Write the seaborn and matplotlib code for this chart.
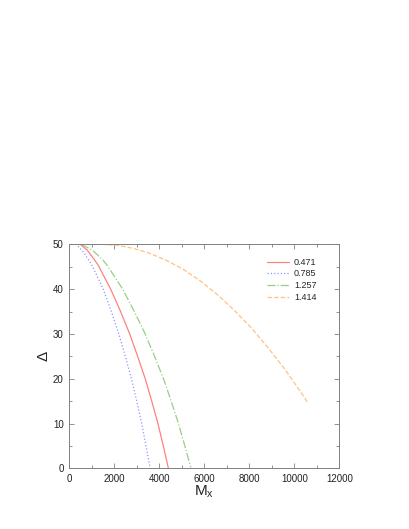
import numpy as np
import pandas as pd
import matplotlib
matplotlib.use("Agg")
import matplotlib.pyplot as plt
import seaborn as sns

# ============================================================
# 数据
# ============================================================
labels = ["0.471", "0.785", "1.257", "1.414"]

x_0471 = [530, 800, 1126, 1300, 1840, 2280, 2685, 3040, 3375, 3665, 3940, 4180, 4405]
y_0471 = [49.8, 48.7, 46.5, 45.2, 40.0, 35.0, 30.0, 25.0, 20.0, 15.0, 10.0, 5.0, 0.0]

x_0785 = [390, 620, 860, 1040, 1511, 1870, 2201, 2490, 2760, 3000, 3220, 3410, 3595]
y_0785 = [49.6, 48.3, 46.5, 45.0, 40.0, 35.0, 30.0, 25.0, 20.0, 15.0, 10.0, 5.0, 0.0]

x_1257 = [540, 1050, 1498, 1700, 2373, 2890, 3373, 3790, 4188, 4530, 4853, 5135, 5400]
y_1257 = [50.0, 48.6, 46.5, 45.2, 40.0, 35.0, 30.0, 25.0, 20.0, 15.0, 10.0, 5.0, 0.2]

x_1414 = [1420, 2150, 2844, 3580, 4329, 5070, 5809, 6550, 7289, 8030, 8773, 9510, 10253, 10622]
y_1414 = [50.0, 49.8, 49.1, 48.0, 46.4, 44.4, 41.9, 38.9, 35.5, 31.7, 27.3, 22.6, 17.3, 14.5]

series_x = [x_0471, x_0785, x_1257, x_1414]
series_y = [y_0471, y_0785, y_1257, y_1414]

colors = ["#ff8080", "#9494ff", "#95d085", "#ffc285"]
linestyles = ["-", ":", "-.", "--"]

# 拼成长表给 seaborn 用
frames = []
for lab, xs, ys in zip(labels, series_x, series_y):
    frames.append(pd.DataFrame({"Mx": xs, "Delta": ys, "series": lab}))
df = pd.concat(frames, ignore_index=True)

# ============================================================
# 画图
# ============================================================
sns.set_theme(style="ticks")
plt.rcParams["font.family"] = ["Liberation Sans", "DejaVu Sans"]

fig = plt.figure(figsize=(4.09, 5.29), dpi=100)
ax = fig.add_axes([0.1694, 0.1147, 0.6601, 0.4234])

for lab, col, ls in zip(labels, colors, linestyles):
    sub = df[df["series"] == lab]
    sns.lineplot(data=sub, x="Mx", y="Delta", ax=ax, color=col,
                 linestyle=ls, linewidth=0.9, label=lab, sort=False)

ax.set_xlim(0, 12000)
ax.set_ylim(0, 50)
ax.set_xticks(np.arange(0, 12001, 2000))
ax.set_yticks(np.arange(0, 51, 10))
ax.set_xticks(np.arange(0, 12001, 1000), minor=True)
ax.set_yticks(np.arange(0, 51, 5), minor=True)

ax.tick_params(which="both", direction="in", bottom=True, left=True,
               top=True, right=True, colors="#808080",
               labelcolor="#222222", labelsize=7, pad=4)
ax.tick_params(which="major", length=3.5, width=0.6)
ax.tick_params(which="minor", length=2, width=0.6)
for sp in ax.spines.values():
    sp.set_visible(True)
    sp.set_color("#808080")
    sp.set_linewidth(0.7)

ax.set_xlabel(r"$\mathregular{M_x}$", fontsize=11, labelpad=0)
ax.set_ylabel("Δ", fontsize=11, labelpad=2)

ax.legend(loc="upper left", bbox_to_anchor=(0.732, 0.94), frameon=False,
          fontsize=6.5, borderpad=0, borderaxespad=0, handlelength=2.4,
          handletextpad=0.6, labelspacing=0.3)

fig.savefig("out.png", dpi=100)
plt.close(fig)
